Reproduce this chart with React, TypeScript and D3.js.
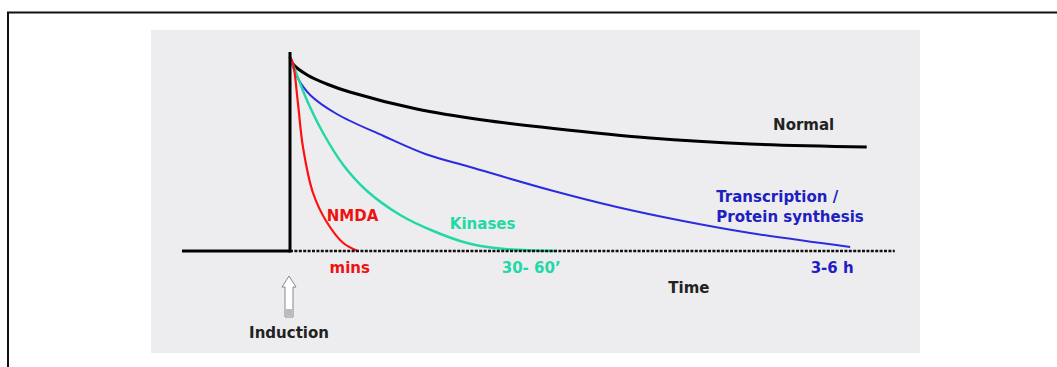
import React from "react";
import * as d3 from "d3";

// time in arbitrary units (0 = induction), level in % of peak
const baseline: [number, number][] = [[-15, 0], [0, 0]];
const normal: [number, number][] = [[0, 97], [0.4, 93.5], [2.4, 88], [5.1, 83.5], [8.3, 79.5], [17.6, 71], [26.8, 65.5], [36.1, 61.5], [50, 56.5], [63.9, 53.5], [80.1, 52]];
const transcription: [number, number][] = [[0, 97], [1, 87], [2.8, 78], [6.5, 68.5], [13, 57.5], [18.8, 48.5], [25, 42], [36.1, 30.5], [45.4, 22], [54.6, 15], [63.9, 9], [77.8, 2]];
const kinases: [number, number][] = [[0, 97], [0.7, 90.5], [2.4, 75], [4.6, 59], [7.4, 43], [10.7, 30], [15.3, 18], [19.9, 10], [24.6, 4], [29.2, 1.2], [37, 0]];
const nmda: [number, number][] = [[0, 97], [0.4, 94], [1.1, 74], [1.8, 52], [3.2, 29], [5.1, 14.5], [7.4, 4], [9.4, 0]];

const timeLabels = [
  { t: 8.3, text: "mins", color: "#ee1111" },
  { t: 33.5, text: "30- 60\u2019", color: "#22d8a6" },
  { t: 75.3, text: "3-6 h", color: "#2020c0" },
];

const W = 1057, H = 367;
const x = d3.scaleLinear().domain([-15, 85]).range([182, 902]);
const y = d3.scaleLinear().domain([0, 100]).range([251, 51]);
const line = d3.line<[number, number]>().x(d => x(d[0])).y(d => y(d[1])).curve(d3.curveCatmullRom.alpha(0.5));

const font = "'DejaVu Sans', Verdana, sans-serif";

export default function App() {
  const ax = x(0);
  return (
    <svg width={W} height={H} style={{ position: "absolute", left: 0, top: 0 }} fontFamily={font}>
      <rect x={0} y={0} width={W} height={H} fill="#fff" />
      {/* frame */}
      <line x1={7} x2={W} y1={12.5} y2={12.5} stroke="#111" strokeWidth={2} />
      <line x1={8} x2={8} y1={12} y2={H} stroke="#111" strokeWidth={2} />
      {/* grey panel */}
      <rect x={151} y={30} width={769} height={323} fill="#ededef" />
      {/* curves */}
      <path d={line(normal)!} fill="none" stroke="#000" strokeWidth={3} />
      <path d={line(transcription)!} fill="none" stroke="#2b2be0" strokeWidth={2} />
      <path d={line(kinases)!} fill="none" stroke="#22d8a6" strokeWidth={2.5} />
      <path d={line(nmda)!} fill="none" stroke="#ff1010" strokeWidth={2.2} />
      {/* baseline and induction */}
      <line x1={x(0)} x2={x(84)} y1={y(0)} y2={y(0)} stroke="#111" strokeWidth={2.5} strokeDasharray="3,1.4" />
      <path d={line(baseline)!} fill="none" stroke="#000" strokeWidth={3} />
      <line x1={ax} x2={ax} y1={y(0) + 1.5} y2={y(99.5)} stroke="#000" strokeWidth={3} />
      {/* labels */}
      <g fontWeight="bold" fontSize={15}>
        <text x={x(67.1)} y={y(60.75)} fill="#222">Normal</text>
        <text x={x(59.2)} y={y(24.5)} fill="#2020c0">Transcription /</text>
        <text x={x(59.2)} y={y(14.5)} fill="#2020c0">Protein synthesis</text>
        <text x={x(5.1)} y={y(15)} fill="#ee1111">NMDA</text>
        <text x={x(22.2)} y={y(11)} fill="#22d8a6">Kinases</text>
        {timeLabels.map(d => (
          <text key={d.text} x={x(d.t)} y={273} textAnchor="middle" fill={d.color}>{d.text}</text>
        ))}
        <text x={x(55.4)} y={293} textAnchor="middle" fill="#222">Time</text>
        <text x={ax - 1} y={338} textAnchor="middle" fill="#222">Induction</text>
      </g>
      {/* induction arrow */}
      <path d={`M${ax - 1},276 L${ax + 6},287 L${ax + 3},287 L${ax + 3},317 L${ax - 5},317 L${ax - 5},287 L${ax - 8},287 Z`}
        fill="#fff" stroke="#888" strokeWidth={1} />
      <rect x={ax - 4.5} y={309} width={7} height={7} fill="#bbb" />
    </svg>
  );
}
